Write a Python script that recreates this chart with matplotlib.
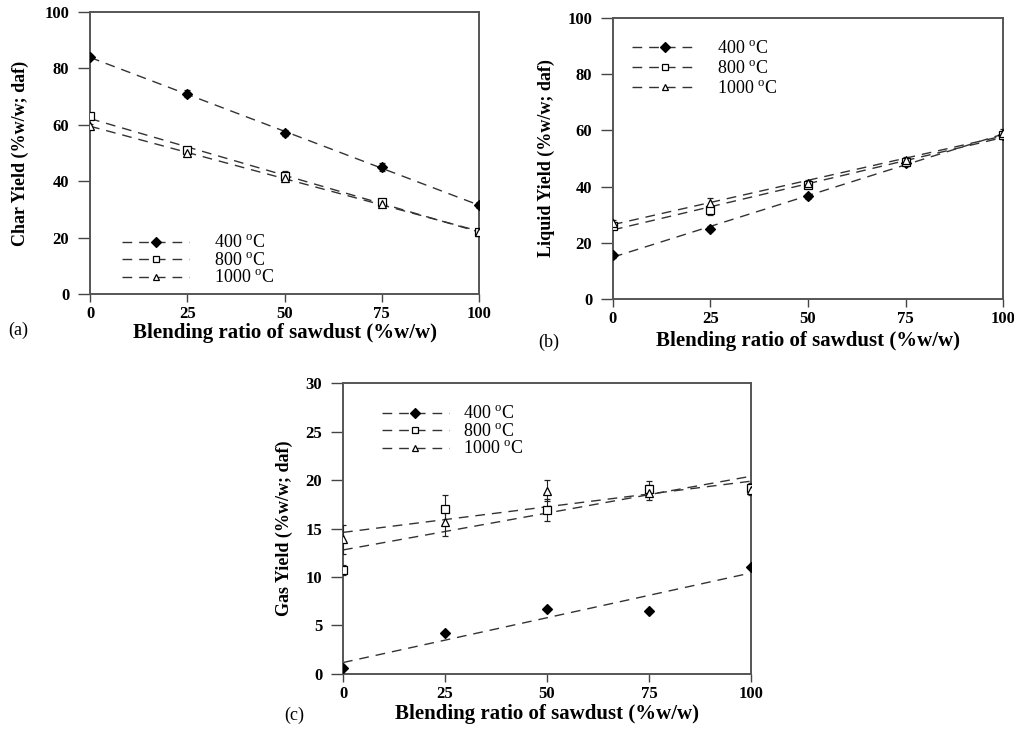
import matplotlib as mpl
mpl.use('Agg')
import matplotlib.pyplot as plt
import numpy as np

plt.rcParams['font.family'] = ['Liberation Serif', 'DejaVu Serif']
plt.rcParams['mathtext.fontset'] = 'custom'
plt.rcParams['mathtext.rm'] = 'Liberation Serif'

# blending ratio of sawdust (% w/w)
blend = [0, 25, 50, 75, 100]
temps = ['400', '800', '1000']

char_400 = [84.0, 71.0, 57.0, 45.0, 31.5]
char_800 = [63.0, 51.0, 42.0, 32.5, 22.0]
char_1000 = [59.5, 50.0, 41.0, 32.0, 22.0]
char_err_400 = [0.8, 1.2, 1.0, 1.5, 1.0]
char_err_800 = [0.8, 1.0, 1.5, 0.8, 0.8]
char_err_1000 = [0.8, 0.8, 1.0, 0.8, 0.8]

liq_400 = [15.5, 25.0, 36.5, 48.5, 58.5]
liq_800 = [26.0, 31.5, 40.4, 48.9, 58.4]
liq_1000 = [27.2, 34.3, 41.2, 49.5, 59.0]
liq_err_400 = [0.8, 0.8, 0.8, 1.0, 1.0]
liq_err_800 = [1.0, 1.5, 1.0, 1.0, 1.5]
liq_err_1000 = [1.0, 1.5, 1.0, 1.0, 1.5]

gas_400 = [0.6, 4.2, 6.7, 6.5, 11.0]
gas_800 = [10.75, 17.0, 16.9, 19.1, 19.2]
gas_1000 = [13.9, 15.7, 18.9, 18.7, 19.0]
gas_err_400 = [0.0, 0.0, 0.0, 0.0, 0.0]
gas_err_800 = [0.5, 1.5, 1.1, 0.8, 0.5]
gas_err_1000 = [1.5, 1.5, 1.1, 0.8, 0.5]

markers = [('D', 'black'), ('s', 'white'), ('^', 'white')]
msizes = [5.5, 5.5, 5.5]
line_col = '#333333'


def panel(ax, series, errs, ylabel, ymax, ystep, leg_kw):
    xfit = np.array([0, 100])
    for i, (y, e) in enumerate(zip(series, errs)):
        mk, fc = markers[i]
        ax.errorbar(blend, y, yerr=e, fmt=mk, mfc=fc, mec='black', ecolor='#222222',
                    ms=msizes[i], mew=0.9, elinewidth=0.8, capsize=2.5, capthick=0.8,
                    zorder=3)
        # linear trend line through each series
        k, b = np.polyfit(blend, y, 1)
        ax.plot(xfit, k * xfit + b, color=line_col, lw=1.0, dashes=(7, 5), zorder=2)
    handles = []
    for i in range(3):
        mk, fc = markers[i]
        h, = ax.plot([], [], color=line_col, lw=1.0, dashes=(7, 5), marker=mk,
                     mfc=fc, mec='black', ms=msizes[i] - 0.5, mew=0.9)
        handles.append(h)
    labels = [t + ' $^{\\mathrm{o}}$C' for t in temps]
    ax.legend(handles, labels, loc='upper left', frameon=False, fontsize=13,
              handlelength=3.7, borderpad=0, borderaxespad=0, numpoints=1, **leg_kw)
    ax.set_xlim(0, 100)
    ax.set_ylim(0, ymax)
    ax.set_xticks(blend)
    ax.set_yticks(np.arange(0, ymax + 1, ystep))
    ax.tick_params(direction='out', width=1, color='#444444', labelsize=12)
    ax.tick_params(axis='x', length=6, pad=2.5)
    ax.tick_params(axis='y', length=9, pad=6)
    for lab in ax.get_xticklabels() + ax.get_yticklabels():
        lab.set_fontweight('bold')
    for s in ax.spines.values():
        s.set_color('#555555')
        s.set_linewidth(1.4)
    ax.set_ylabel(ylabel, fontsize=13, fontweight='bold')
    ax.set_xlabel('Blending ratio of sawdust (%w/w)', fontsize=15, fontweight='bold')


fig = plt.figure(figsize=(10.14, 7.37), dpi=100)
ax_a = fig.add_axes([0.0888, 0.6011, 0.3836, 0.3826])
ax_b = fig.add_axes([0.6045, 0.5943, 0.3847, 0.3813])
ax_c = fig.add_axes([0.3383, 0.0855, 0.4024, 0.3948])

panel(ax_a, [char_400, char_800, char_1000], [char_err_400, char_err_800, char_err_1000],
      'Char Yield (%w/w; daf)', 100, 20,
      dict(bbox_to_anchor=(0.083, 0.21), handletextpad=1.4, labelspacing=0.02))
panel(ax_b, [liq_400, liq_800, liq_1000], [liq_err_400, liq_err_800, liq_err_1000],
      'Liquid Yield (%w/w; daf)', 100, 20,
      dict(bbox_to_anchor=(0.048, 0.92), handletextpad=1.0, labelspacing=0.15))
panel(ax_c, [gas_400, gas_800, gas_1000], [gas_err_400, gas_err_800, gas_err_1000],
      'Gas Yield (%w/w; daf)', 30, 5,
      dict(bbox_to_anchor=(0.095, 0.922), handletextpad=0.8, labelspacing=0.02))

ax_a.yaxis.set_label_coords(-0.157, 0.5)
ax_b.yaxis.set_label_coords(-0.149, 0.5)
ax_c.yaxis.set_label_coords(-0.123, 0.5)
ax_a.xaxis.set_label_coords(0.5, -0.103)
ax_b.xaxis.set_label_coords(0.5, -0.113)
ax_c.xaxis.set_label_coords(0.5, -0.102)

fig.text(0.018, 0.552, '(a)', fontsize=13, ha='center', va='center')
fig.text(0.541, 0.535, '(b)', fontsize=13, ha='center', va='center')
fig.text(0.290, 0.030, '(c)', fontsize=13, ha='center', va='center')

fig.savefig('out.png', dpi=100)
